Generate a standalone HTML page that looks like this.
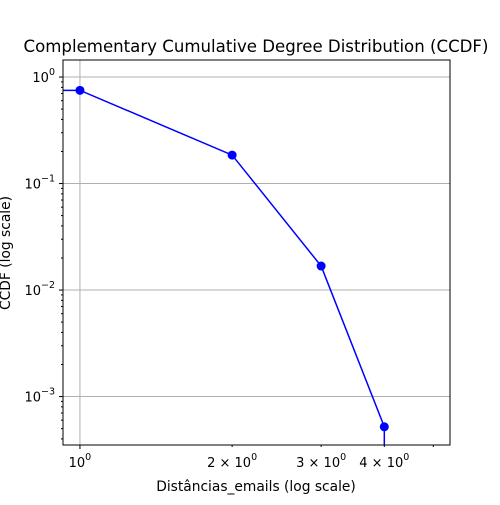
<!DOCTYPE html>
<html><head><meta charset="utf-8"><style>body{margin:0;background:#fff}svg{font-family:"DejaVu Sans","Liberation Sans",sans-serif}</style></head>
<body>
<svg id="c" width="500" height="500" xmlns="http://www.w3.org/2000/svg">
<text x="256" y="52" font-size="16.6" text-anchor="middle">Complementary Cumulative Degree Distribution (CCDF)</text>
<text x="256" y="491" font-size="13.8" text-anchor="middle">Distâncias_emails (log scale)</text>
<text transform="translate(10,253) rotate(-90)" font-size="13.8" text-anchor="middle">CCDF (log scale)</text>
<g id="grid"></g><g id="axes"></g><g id="series"></g>
<rect x="63" y="60" width="387" height="385" fill="none" stroke="#000" stroke-width="1"/>
</svg>
<script>
const xs=[1,2,3,4];
const ys=[0.75,0.185,0.0168,0.00052];
const yMajor=[0,-1,-2,-3];
const xTicks=[1,2,3,4,5];
const xTickLabels=["10","2 × 10","3 × 10","4 × 10",""];
const L=63,R=450,T=60,B=445,xmin=-0.0335,xmax=0.732,ymin=-3.455,ymax=0.16;
const X=v=>L+(Math.log10(v)-xmin)/(xmax-xmin)*(R-L);
const Y=v=>B-(Math.log10(v)-ymin)/(ymax-ymin)*(B-T);
const NS="http://www.w3.org/2000/svg";
function mk(t,a,p){const e=document.createElementNS(NS,t);for(const k in a)e.setAttribute(k,a[k]);p.appendChild(e);return e;}
const g=document.getElementById('grid'),ax=document.getElementById('axes'),s=document.getElementById('series');
yMajor.forEach(d=>{const y=Y(Math.pow(10,d));
 let l=mk('line',{x1:L,x2:R,y1:y,y2:y,stroke:'#b0b0b0','stroke-width':1},g);
 
 
 mk('line',{x1:L-4,x2:L,y1:y,y2:y,stroke:'#000'},ax);
 let t=mk('text',{x:L-8,y:y+5,'font-size':13,'text-anchor':'end'},ax);
 
 
 t.innerHTML='10<tspan dy="-7" font-size="9.5">'+(d<0?'−'+(-d):d)+'</tspan>';
});
for(let d=-4;d<=0;d++)for(let m=2;m<=9;m++){const v=m*Math.pow(10,d);const y=Y(v);if(y<T||y>B)continue;mk('line',{x1:L-2,x2:L,y1:y,y2:y,stroke:'#000'},ax);}
xTicks.forEach((v,i)=>{const x=X(v);
 if(v===1){let l=mk('line',{x1:x,x2:x,y1:T,y2:B,stroke:'#b0b0b0'},g);
  
  }
 mk('line',{x1:x,x2:x,y1:B,y2:B+(v===1?4:2),stroke:'#000'},ax);
 if(xTickLabels[i]){let t=mk('text',{x:x,y:B+22,'font-size':13,'text-anchor':'middle'},ax);
  
  
  t.setAttribute('xml:space','preserve');
  t.innerHTML=xTickLabels[i]+'<tspan dy="-7" font-size="9.5">0</tspan>';}
});
let pts=[L+','+Y(ys[0])];xs.forEach((v,i)=>pts.push(X(v)+','+Y(ys[i])));pts.push(X(xs[xs.length-1])+','+B);
let pl=mk('polyline',{points:pts.join(' '),fill:'none',stroke:'#0000ff','stroke-width':1.5},s);


xs.forEach((v,i)=>{let c=mk('circle',{cx:X(v),cy:Y(ys[i]),r:4.5,fill:'#0000ff'},s);
 
 });
</script>
</body></html>
